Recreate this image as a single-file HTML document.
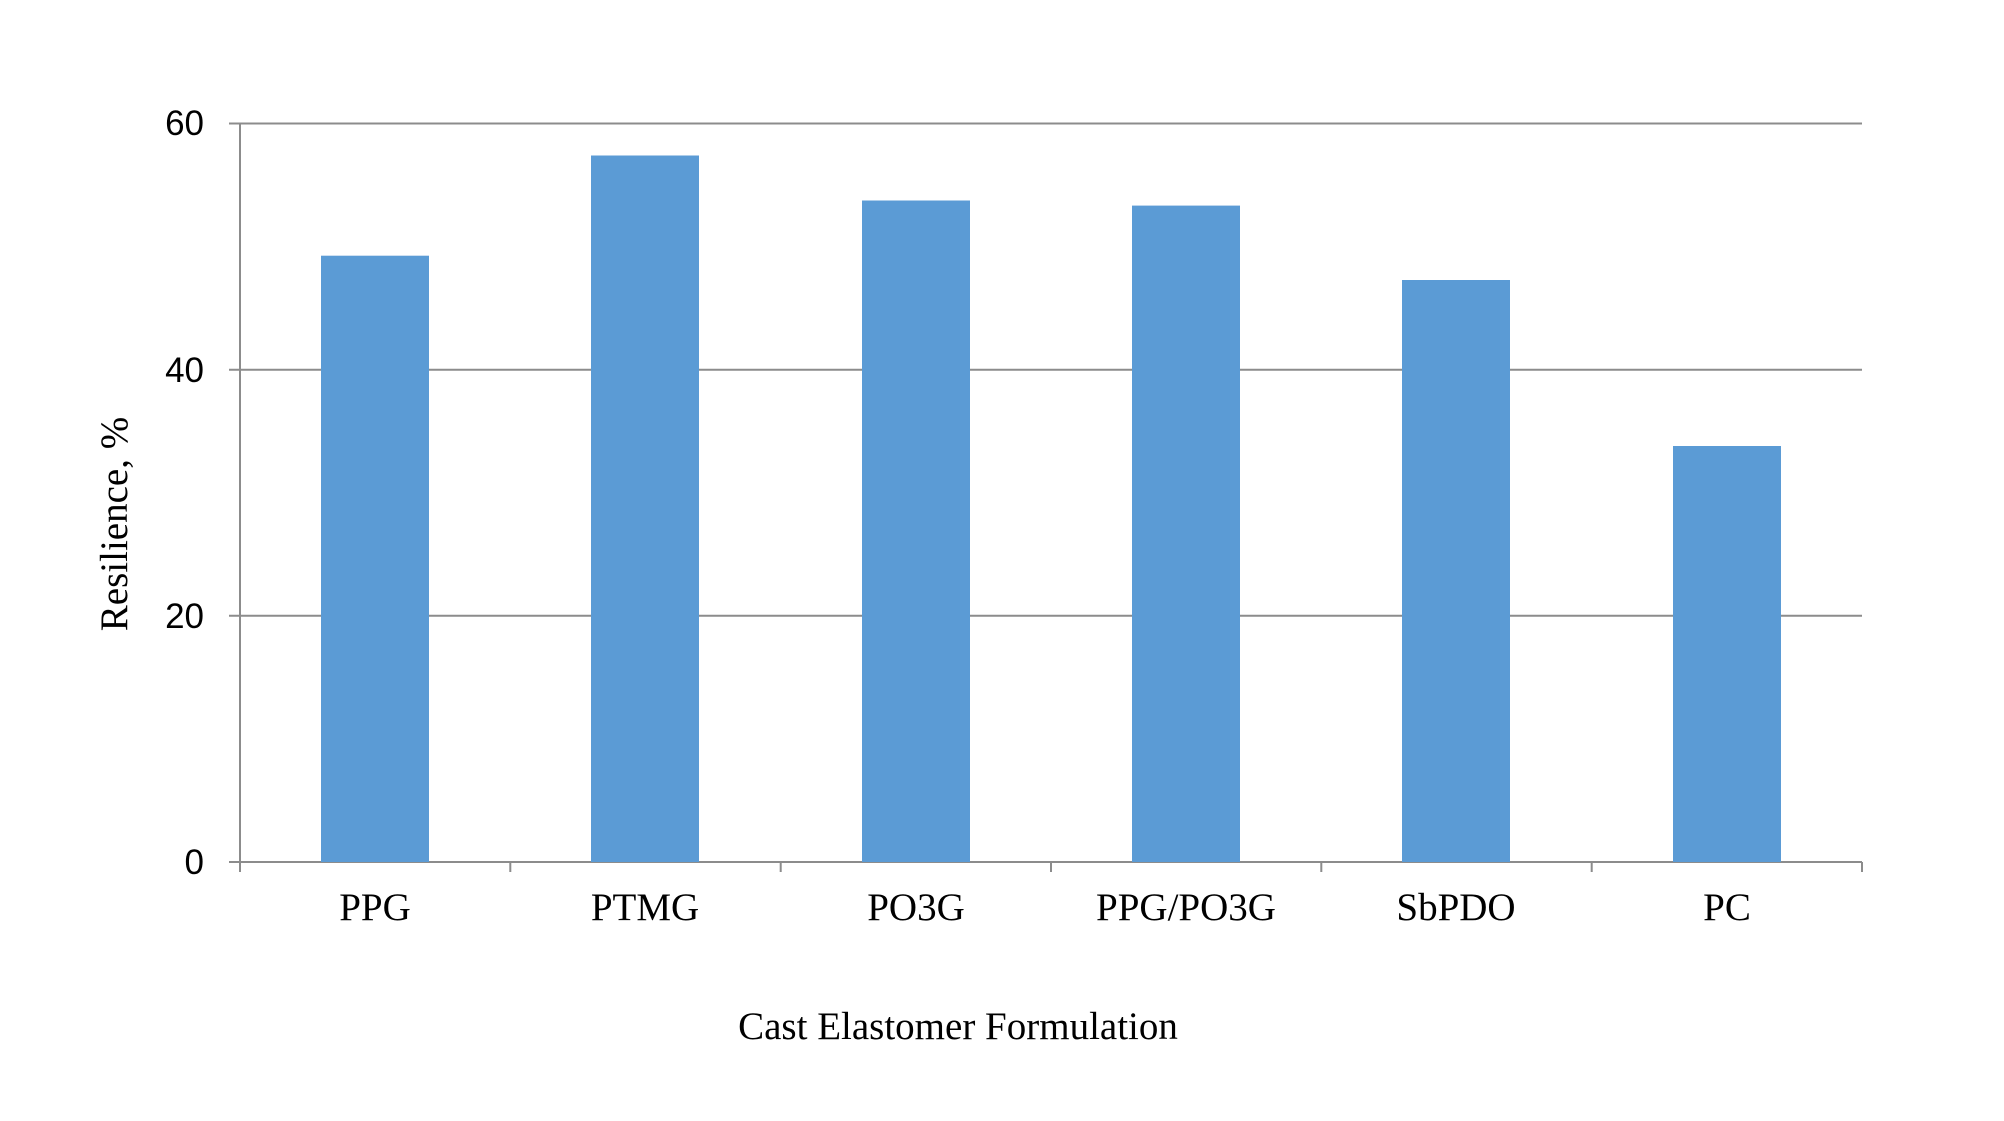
<!DOCTYPE html>
<html><head><style>body{margin:0;background:#fff}</style></head><body>
<svg width="2004" height="1116" xmlns="http://www.w3.org/2000/svg">
<rect width="2004" height="1116" fill="#fff"/>
<g stroke="#8c8c8c" stroke-width="2">
<line x1="229" y1="123.5" x2="1862" y2="123.5"/>
<line x1="229" y1="369.7" x2="1862" y2="369.7"/>
<line x1="229" y1="615.8" x2="1862" y2="615.8"/>
<line x1="229" y1="862" x2="1862" y2="862"/>
<line x1="240" y1="123.5" x2="240" y2="872"/>
<line x1="510.3" y1="862" x2="510.3" y2="872"/>
<line x1="780.7" y1="862" x2="780.7" y2="872"/>
<line x1="1051" y1="862" x2="1051" y2="872"/>
<line x1="1321.3" y1="862" x2="1321.3" y2="872"/>
<line x1="1591.7" y1="862" x2="1591.7" y2="872"/>
<line x1="1862" y1="862" x2="1862" y2="872"/>
</g>
<g fill="#5b9bd5">
<rect x="321" y="255.7" width="108" height="606.3"/>
<rect x="591" y="155.5" width="108" height="706.5"/>
<rect x="862" y="200.5" width="108" height="661.5"/>
<rect x="1132" y="205.6" width="108" height="656.4"/>
<rect x="1402" y="280" width="108" height="582"/>
<rect x="1673" y="446" width="108" height="416"/>
</g>
<g font-family="Liberation Sans, sans-serif" font-size="35" text-anchor="end" fill="#000">
<text x="204" y="135">60</text>
<text x="204" y="382">40</text>
<text x="204" y="628">20</text>
<text x="204" y="874">0</text>
</g>
<g font-family="Liberation Serif, serif" font-size="39" text-anchor="middle" fill="#000">
<text x="375" y="920">PPG</text>
<text x="645" y="920">PTMG</text>
<text x="916" y="920">PO3G</text>
<text x="1186" y="920">PPG/PO3G</text>
<text x="1456" y="920">SbPDO</text>
<text x="1727" y="920">PC</text>
<text x="958" y="1039">Cast Elastomer Formulation</text>
<text transform="translate(127,524) rotate(-90)">Resilience, %</text>
</g>
</svg>
</body></html>
